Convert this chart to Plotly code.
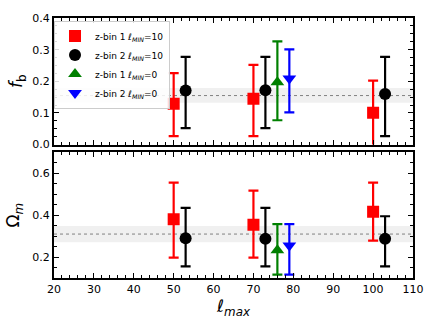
import plotly.graph_objects as go

# l_max positions for each series
lmax_z1_10 = [50, 70, 100]
lmax_z2_10 = [53, 73, 103]
lmax_z1_0 = [76]
lmax_z2_0 = [79]

# f_b: centre, upper and lower limits
fb_z1_10 = [0.129, 0.145, 0.101]
fb_z1_10_hi = [0.226, 0.252, 0.202]
fb_z1_10_lo = [0.027, 0.027, -0.01]
fb_z2_10 = [0.171, 0.172, 0.160]
fb_z2_10_hi = [0.277, 0.277, 0.277]
fb_z2_10_lo = [0.052, 0.052, 0.027]
fb_z1_0 = [0.197]
fb_z1_0_hi = [0.326]
fb_z1_0_lo = [0.077]
fb_z2_0 = [0.209]
fb_z2_0_hi = [0.301]
fb_z2_0_lo = [0.102]

# Omega_m: centre, upper and lower limits
om_z1_10 = [0.381, 0.354, 0.417]
om_z1_10_hi = [0.556, 0.517, 0.556]
om_z1_10_lo = [0.197, 0.197, 0.279]
om_z2_10 = [0.290, 0.287, 0.287]
om_z2_10_hi = [0.435, 0.435, 0.395]
om_z2_10_lo = [0.156, 0.156, 0.156]
om_z1_0 = [0.232]
om_z1_0_hi = [0.357]
om_z1_0_lo = [0.116]
om_z2_0 = [0.255]
om_z2_0_hi = [0.357]
om_z2_0_lo = [0.116]

# fiducial values and their bands
fb_fid = 0.155
fb_band = [0.132, 0.179]
om_fid = 0.31
om_band = [0.271, 0.348]

series = [
    ('z-bin 1 ℓ<sub><i>MIN</i></sub>=10', 'red', 'square', 12,
     lmax_z1_10, fb_z1_10, fb_z1_10_hi, fb_z1_10_lo, om_z1_10, om_z1_10_hi, om_z1_10_lo),
    ('z-bin 2 ℓ<sub><i>MIN</i></sub>=10', 'black', 'circle', 12,
     lmax_z2_10, fb_z2_10, fb_z2_10_hi, fb_z2_10_lo, om_z2_10, om_z2_10_hi, om_z2_10_lo),
    ('z-bin 1 ℓ<sub><i>MIN</i></sub>=0', 'green', 'triangle-up', 12,
     lmax_z1_0, fb_z1_0, fb_z1_0_hi, fb_z1_0_lo, om_z1_0, om_z1_0_hi, om_z1_0_lo),
    ('z-bin 2 ℓ<sub><i>MIN</i></sub>=0', 'blue', 'triangle-down', 12,
     lmax_z2_0, fb_z2_0, fb_z2_0_hi, fb_z2_0_lo, om_z2_0, om_z2_0_hi, om_z2_0_lo),
]

fig = go.Figure()

for name, col, sym, size, x, fb, fbh, fbl, om, omh, oml in series:
    fig.add_trace(go.Scatter(
        x=x, y=fb, mode='markers', name=name,
        marker=dict(color=col, symbol=sym, size=size),
        error_y=dict(type='data', symmetric=False,
                     array=[h - c for h, c in zip(fbh, fb)],
                     arrayminus=[c - l for c, l in zip(fb, fbl)],
                     color=col, thickness=2.2, width=5),
        xaxis='x', yaxis='y'))
    fig.add_trace(go.Scatter(
        x=x, y=om, mode='markers', name=name, showlegend=False,
        marker=dict(color=col, symbol=sym, size=size),
        error_y=dict(type='data', symmetric=False,
                     array=[h - c for h, c in zip(omh, om)],
                     arrayminus=[c - l for c, l in zip(om, oml)],
                     color=col, thickness=2.2, width=5),
        xaxis='x2', yaxis='y2'))

shapes = []
for yref, fid, band in [('y', fb_fid, fb_band), ('y2', om_fid, om_band)]:
    xref = 'x domain' if yref == 'y' else 'x2 domain'
    shapes.append(dict(type='rect', xref=xref, yref=yref, x0=0, x1=1,
                       y0=band[0], y1=band[1], fillcolor='rgba(0,0,0,0.06)',
                       line=dict(width=0), layer='below'))
    shapes.append(dict(type='line', xref=xref, yref=yref, x0=0, x1=1,
                       y0=fid, y1=fid, line=dict(color='gray', width=1, dash='dot'),
                       layer='below'))

axis_style = dict(showline=True, linecolor='black', linewidth=2, mirror='ticks',
                  ticks='inside', ticklen=5, tickwidth=1, tickcolor='black',
                  showgrid=False, zeroline=False,
                  tickfont=dict(family='DejaVu Sans', size=11, color='black'))

fig.update_layout(
    width=436, height=327,
    margin=dict(l=53, r=21, t=15, b=49),
    plot_bgcolor='white', paper_bgcolor='white',
    shapes=shapes,
    showlegend=True,
    legend=dict(x=0.0, y=0.99, xanchor='left', yanchor='top',
                bgcolor='rgba(255,255,255,0.85)', bordercolor='#cccccc', borderwidth=1,
                font=dict(family='DejaVu Sans', size=9, color='black'),
                tracegroupgap=0, itemsizing='constant', itemwidth=30),
    xaxis=dict(domain=[0, 1], anchor='y', range=[20, 110], dtick=10,
               showticklabels=False,
               minor=dict(ticks='inside', ticklen=3, dtick=2, tickcolor='black'),
               **axis_style),
    yaxis=dict(domain=[0.513, 1], anchor='x', range=[0, 0.4], dtick=0.1,
               tickformat='.1f',
               minor=dict(ticks='inside', ticklen=3, dtick=0.025, tickcolor='black'),
               title=dict(text='<i>f</i><sub>b</sub>', standoff=5,
                          font=dict(family='DejaVu Sans', size=17, color='black')),
               **axis_style),
    xaxis2=dict(domain=[0, 1], anchor='y2', range=[20, 110], dtick=10,
                minor=dict(ticks='inside', ticklen=3, dtick=2, tickcolor='black'),
                title=dict(text='ℓ<sub><i>max</i></sub>', standoff=4,
                           font=dict(family='DejaVu Sans', size=17, color='black')),
                **axis_style),
    yaxis2=dict(domain=[0, 0.483], anchor='x2', range=[0.1, 0.7], dtick=0.2,
                tickformat='.1f',
                minor=dict(ticks='inside', ticklen=3, dtick=0.05, tickcolor='black'),
                title=dict(text='Ω<sub><i>m</i></sub>', standoff=8,
                           font=dict(family='DejaVu Sans', size=17, color='black')),
                **axis_style),
)

# drop the browser's default page margin so the figure sits at the window corner
fig.write_html('out.html', config={'displayModeBar': False},
               post_script="document.body.style.margin='0';")
